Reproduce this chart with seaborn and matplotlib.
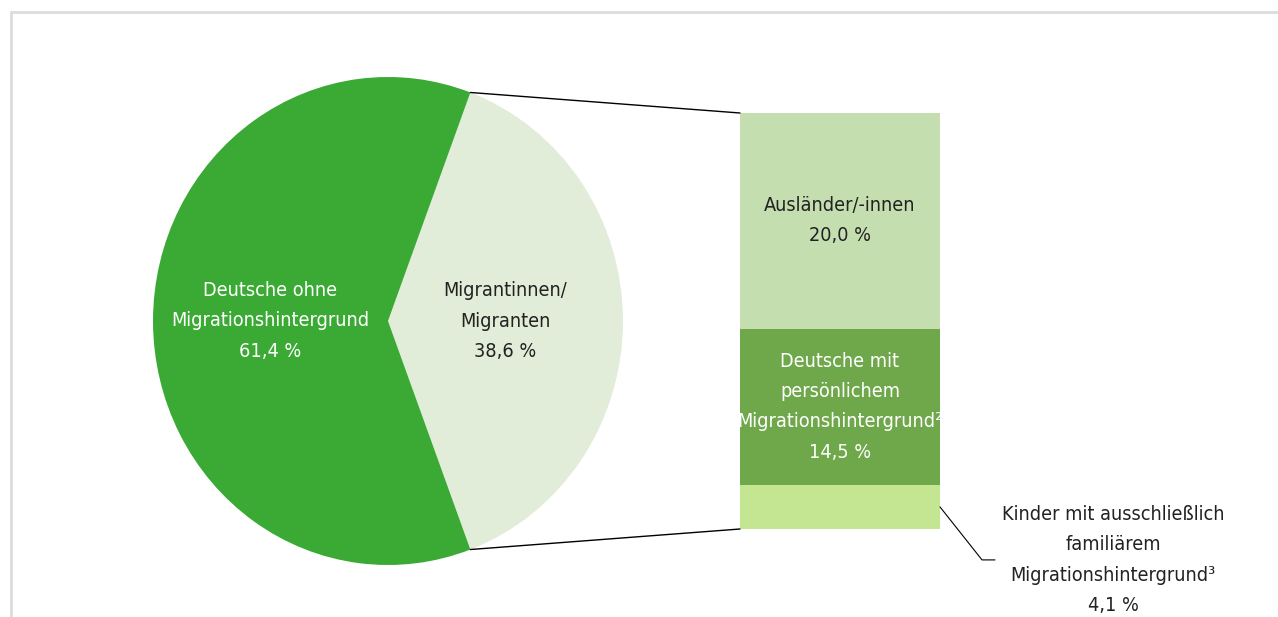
import numpy as np
import matplotlib
matplotlib.use("Agg")
import matplotlib.pyplot as plt
from matplotlib.patches import ConnectionPatch
from matplotlib.lines import Line2D
import seaborn as sns

# pie: overall population
pie_labels = ["Migrantinnen/\nMigranten", "Deutsche ohne\nMigrationshintergrund"]
pie_values = [38.6, 61.4]
pie_colors = ["#e2edd9", "#3baa35"]
pie_text_colors = ["#222222", "white"]

# bar: breakdown of the migrant share (top to bottom)
bar_labels = ["Ausländer/-innen", "Deutsche mit\npersönlichem\nMigrationshintergrund²",
              "Kinder mit ausschließlich\nfamiliärem\nMigrationshintergrund³"]
bar_values = [20.0, 14.5, 4.1]
bar_colors = ["#c5deb0", "#6fa84a", "#c4e591"]
bar_text_colors = ["#222222", "white", "#222222"]

sns.set_theme(style="white")
plt.rcParams["font.family"] = ["DejaVu Sans"]
plt.rcParams["font.stretch"] = "condensed"
FS = 14.2
LS = 1.75

W, H = 1278, 617
fig = plt.figure(figsize=(W / 100, H / 100), dpi=100)

def px_axes(x0, y0, x1, y1):
    return fig.add_axes([x0 / W, (H - y1) / H, (x1 - x0) / W, (y1 - y0) / H])

# frame lines at top and left
fig.add_artist(Line2D([11 / W, 1], [1 - 12 / H, 1 - 12 / H], transform=fig.transFigure,
                      color="#dcdcdc", lw=2))
fig.add_artist(Line2D([11 / W, 11 / W], [1 - 12 / H, 0], transform=fig.transFigure,
                      color="#dcdcdc", lw=2))

# ---- pie ----
ax_pie = px_axes(153, 77, 623, 565)
start = -pie_values[0] / sum(pie_values) * 360 / 2
wedges, _ = ax_pie.pie(pie_values, colors=pie_colors, startangle=start,
                       wedgeprops=dict(linewidth=0))
ax_pie.set_aspect("auto")
ax_pie.set_xlim(-1, 1)
ax_pie.set_ylim(-1, 1)
ax_pie.axis("off")
for w, lab, val, tc in zip(wedges, pie_labels, pie_values, pie_text_colors):
    mid = np.deg2rad((w.theta1 + w.theta2) / 2)
    ax_pie.text(0.5 * np.cos(mid), 0.5 * np.sin(mid),
                f"{lab}\n{val:.1f} %".replace(".", ","),
                ha="center", va="center", color=tc, fontsize=FS, linespacing=LS)

# ---- stacked bar ----
ax_bar = px_axes(740, 113, 940, 529)
cum = np.cumsum(bar_values[::-1])[::-1]  # cumulative from bottom
for top, c in zip(cum, bar_colors):
    sns.barplot(x=["m"], y=[top], color=c, saturation=1, width=1, linewidth=0, ax=ax_bar)
ax_bar.set_xlim(-0.5, 0.5)
ax_bar.set_ylim(0, sum(bar_values))
ax_bar.axis("off")
for i in range(2):
    ymid = cum[i] - bar_values[i] / 2
    ax_bar.text(0, ymid, f"{bar_labels[i]}\n{bar_values[i]:.1f} %".replace(".", ","),
                ha="center", va="center", color=bar_text_colors[i], fontsize=FS,
                linespacing=LS)

# connector lines pie -> bar
t1 = np.deg2rad(wedges[0].theta1)
t2 = np.deg2rad(wedges[0].theta2)
for th, yb in [(t2, sum(bar_values)), (t1, 0)]:
    con = ConnectionPatch(xyA=(np.cos(th), np.sin(th)), coordsA=ax_pie.transData,
                          xyB=(-0.5, yb), coordsB=ax_bar.transData,
                          color="black", lw=1)
    fig.add_artist(con)

# leader for the small segment
sx, sy = ax_bar.transData.transform((0.5, bar_values[2] / 2))
fig.add_artist(Line2D([sx / W, (sx + 42) / W, (sx + 55) / W],
                      [sy / H, (sy - 53) / H, (sy - 53) / H],
                      transform=fig.transFigure, color="black", lw=0.8))
fig.text(1113 / W, 1 - 560 / H,
         f"{bar_labels[2]}\n{bar_values[2]:.1f} %".replace(".", ","),
         ha="center", va="center", color=bar_text_colors[2], fontsize=FS,
         linespacing=LS)

fig.savefig("out.png", dpi=100, facecolor="white")
